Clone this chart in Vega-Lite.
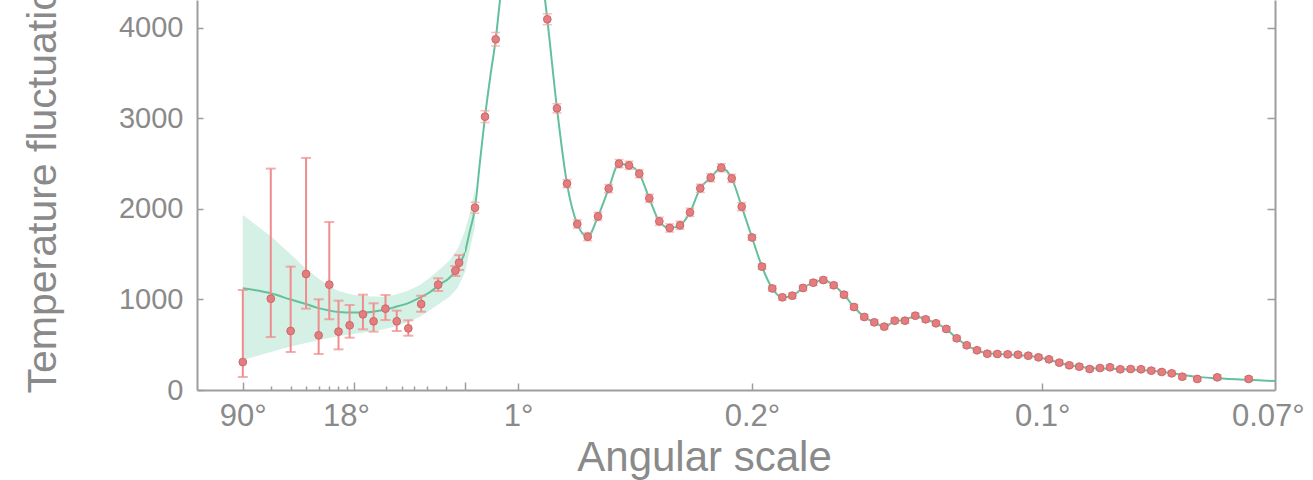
{
  "$schema": "https://vega.github.io/schema/vega-lite/v6.json",
  "autosize": {"type": "none"},
  "padding": {"left": 197, "top": 0, "right": 1116, "bottom": 480},
  "background": "white",
  "spacing": 0,
  "bounds": "flush",
  "config": {
    "view": {"stroke": null},
    "font": "Liberation Sans",
    "axis": {
      "domainColor": "#9d9d9d", "domainWidth": 2, "tickColor": "#9d9d9d", "tickWidth": 1.5,
      "labelColor": "#8a8a8a", "labelFont": "Liberation Sans", "labelFontSize": 29,
      "grid": false, "titleColor": "#8a8a8a", "titleFont": "Liberation Sans", "titleFontWeight": "normal",
      "labelFlush": false, "labelOverlap": false
    }
  },
  "datasets": {
    "lowpts": [
      {"l": 2, "d": 309, "lo": 144, "hi": 1105},
      {"l": 3, "d": 1009, "lo": 585, "hi": 2446},
      {"l": 4, "d": 652, "lo": 420, "hi": 1363},
      {"l": 5, "d": 1282, "lo": 899, "hi": 2564},
      {"l": 6, "d": 604, "lo": 398, "hi": 1002},
      {"l": 7, "d": 1164, "lo": 781, "hi": 1856},
      {"l": 8, "d": 645, "lo": 449, "hi": 987},
      {"l": 9.4, "d": 715, "lo": 578, "hi": 939},
      {"l": 11.4, "d": 836, "lo": 670, "hi": 1053},
      {"l": 13.3, "d": 759, "lo": 645, "hi": 958},
      {"l": 15.8, "d": 899, "lo": 773, "hi": 1050},
      {"l": 18.6, "d": 759, "lo": 652, "hi": 877},
      {"l": 22.0, "d": 681, "lo": 600, "hi": 770},
      {"l": 26.5, "d": 950, "lo": 865, "hi": 1042},
      {"l": 33.9, "d": 1164, "lo": 1094, "hi": 1234},
      {"l": 43.5, "d": 1318, "lo": 1260, "hi": 1370},
      {"l": 45.9, "d": 1407, "lo": 1326, "hi": 1490}
    ],
    "lowtheory": [
      {"l": 2, "d": 1124}, {"l": 3, "d": 1068}, {"l": 4, "d": 1000}, {"l": 5, "d": 950},
      {"l": 6, "d": 905}, {"l": 7, "d": 878}, {"l": 8, "d": 862}, {"l": 10, "d": 855},
      {"l": 12, "d": 857}, {"l": 15, "d": 880}, {"l": 18, "d": 915}, {"l": 22, "d": 960},
      {"l": 26, "d": 1020}, {"l": 30, "d": 1080}, {"l": 35, "d": 1170}, {"l": 40, "d": 1240},
      {"l": 45, "d": 1350}, {"l": 50, "d": 1520}
    ],
    "lowband": [
      {"l": 2, "lo": 331, "hi": 1934}, {"l": 3, "lo": 420, "hi": 1700}, {"l": 4, "lo": 480, "hi": 1500},
      {"l": 5, "lo": 520, "hi": 1340}, {"l": 6, "lo": 550, "hi": 1230}, {"l": 7, "lo": 575, "hi": 1150},
      {"l": 8, "lo": 595, "hi": 1095}, {"l": 10, "lo": 620, "hi": 1050}, {"l": 12, "lo": 640, "hi": 1035},
      {"l": 15, "lo": 665, "hi": 1030}, {"l": 18, "lo": 700, "hi": 1050}, {"l": 22, "lo": 750, "hi": 1100},
      {"l": 26, "lo": 810, "hi": 1160}, {"l": 30, "lo": 880, "hi": 1240}, {"l": 35, "lo": 960, "hi": 1340},
      {"l": 40, "lo": 1030, "hi": 1430}, {"l": 45, "lo": 1130, "hi": 1560}, {"l": 50, "lo": 1300, "hi": 1760}
    ],
    "hiband": [
      {"l": 50, "lo": 1300, "hi": 1760}, {"l": 65, "lo": 1560, "hi": 1960}, {"l": 80.5, "lo": 1800, "hi": 2230}
    ],
    "hitheory": [
      {"l": 50, "d": 1520}, {"l": 65, "d": 1760}, {"l": 80.5, "d": 2014}, {"l": 95, "d": 2500},
      {"l": 111, "d": 3020}, {"l": 127, "d": 3460}, {"l": 143.6, "d": 3875}, {"l": 160, "d": 4420},
      {"l": 180, "d": 5050}, {"l": 200, "d": 5520}, {"l": 220, "d": 5720}, {"l": 240, "d": 5640},
      {"l": 260, "d": 5300}, {"l": 280, "d": 4750}, {"l": 301, "d": 4096}, {"l": 330.5, "d": 3112},
      {"l": 361, "d": 2280}, {"l": 392.4, "d": 1834}, {"l": 424.2, "d": 1694}, {"l": 455.6, "d": 1918},
      {"l": 488.2, "d": 2225}, {"l": 519.6, "d": 2501}, {"l": 550.1, "d": 2482}, {"l": 581.5, "d": 2390},
      {"l": 612, "d": 2118}, {"l": 642.5, "d": 1864}, {"l": 674.2, "d": 1790}, {"l": 705.6, "d": 1820},
      {"l": 736.1, "d": 1963}, {"l": 767.5, "d": 2228}, {"l": 799.2, "d": 2346}, {"l": 831.6, "d": 2456},
      {"l": 863.3, "d": 2338}, {"l": 893.8, "d": 2026}, {"l": 925.2, "d": 1685}, {"l": 955.6, "d": 1363},
      {"l": 987.1, "d": 1122}, {"l": 1017.6, "d": 1024}, {"l": 1048.1, "d": 1042}, {"l": 1080.7, "d": 1127},
      {"l": 1112.1, "d": 1186}, {"l": 1142.6, "d": 1215}, {"l": 1174.3, "d": 1157}, {"l": 1205.7, "d": 1053},
      {"l": 1236.2, "d": 917}, {"l": 1267.6, "d": 807}, {"l": 1298.1, "d": 748}, {"l": 1328.6, "d": 700},
      {"l": 1360.3, "d": 760}, {"l": 1391.7, "d": 775}, {"l": 1423.1, "d": 815}, {"l": 1454.8, "d": 781},
      {"l": 1486.2, "d": 737}, {"l": 1517.7, "d": 674}, {"l": 1549.4, "d": 571}, {"l": 1579.9, "d": 494},
      {"l": 1611.3, "d": 439}, {"l": 1642.7, "d": 405}, {"l": 1673.2, "d": 398}, {"l": 1704.9, "d": 394},
      {"l": 1736.3, "d": 388}, {"l": 1767.7, "d": 377}, {"l": 1798.8, "d": 361}, {"l": 1830, "d": 335},
      {"l": 1862, "d": 302}, {"l": 1893, "d": 275}, {"l": 1923, "d": 257}, {"l": 1955, "d": 243},
      {"l": 1986, "d": 238}, {"l": 2017, "d": 235}, {"l": 2048, "d": 230}, {"l": 2080, "d": 226},
      {"l": 2111, "d": 220}, {"l": 2143, "d": 212}, {"l": 2175, "d": 200}, {"l": 2205, "d": 186},
      {"l": 2237, "d": 168}, {"l": 2283, "d": 145}, {"l": 2344, "d": 130}, {"l": 2440, "d": 112},
      {"l": 2520, "d": 99}
    ],
    "hipts": [
      {"l": 80.5, "d": 2014, "lo": 1954, "hi": 2074},
      {"l": 111, "d": 3020, "lo": 2955, "hi": 3085},
      {"l": 143.6, "d": 3875, "lo": 3800, "hi": 3950},
      {"l": 175, "d": 5000, "lo": 4920, "hi": 5080},
      {"l": 206, "d": 5650, "lo": 5570, "hi": 5730},
      {"l": 239, "d": 5680, "lo": 5600, "hi": 5760},
      {"l": 270, "d": 5050, "lo": 4975, "hi": 5125},
      {"l": 301, "d": 4096, "lo": 4036, "hi": 4156},
      {"l": 330.5, "d": 3112, "lo": 3062, "hi": 3162},
      {"l": 361, "d": 2280, "lo": 2235, "hi": 2325},
      {"l": 392.4, "d": 1834, "lo": 1789, "hi": 1879},
      {"l": 424.2, "d": 1694, "lo": 1649, "hi": 1739},
      {"l": 455.6, "d": 1918, "lo": 1873, "hi": 1963},
      {"l": 488.2, "d": 2225, "lo": 2180, "hi": 2270},
      {"l": 519.6, "d": 2501, "lo": 2456, "hi": 2546},
      {"l": 550.1, "d": 2482, "lo": 2437, "hi": 2527},
      {"l": 581.5, "d": 2390, "lo": 2345, "hi": 2435},
      {"l": 612, "d": 2118, "lo": 2073, "hi": 2163},
      {"l": 642.5, "d": 1864, "lo": 1819, "hi": 1909},
      {"l": 674.2, "d": 1790, "lo": 1745, "hi": 1835},
      {"l": 705.6, "d": 1820, "lo": 1775, "hi": 1865},
      {"l": 736.1, "d": 1963, "lo": 1918, "hi": 2008},
      {"l": 767.5, "d": 2228, "lo": 2183, "hi": 2273},
      {"l": 799.2, "d": 2346, "lo": 2301, "hi": 2391},
      {"l": 831.6, "d": 2456, "lo": 2411, "hi": 2501},
      {"l": 863.3, "d": 2338, "lo": 2293, "hi": 2383},
      {"l": 893.8, "d": 2026, "lo": 1981, "hi": 2071},
      {"l": 925.2, "d": 1685, "lo": 1655, "hi": 1715},
      {"l": 955.6, "d": 1363, "lo": 1333, "hi": 1393},
      {"l": 987.1, "d": 1122, "lo": 1092, "hi": 1152},
      {"l": 1017.6, "d": 1024, "lo": 994, "hi": 1054},
      {"l": 1048.1, "d": 1042, "lo": 1012, "hi": 1072},
      {"l": 1080.7, "d": 1127, "lo": 1097, "hi": 1157},
      {"l": 1112.1, "d": 1186, "lo": 1156, "hi": 1216},
      {"l": 1142.6, "d": 1215, "lo": 1185, "hi": 1245},
      {"l": 1174.3, "d": 1157, "lo": 1127, "hi": 1187},
      {"l": 1205.7, "d": 1053, "lo": 1023, "hi": 1083},
      {"l": 1236.2, "d": 917, "lo": 889, "hi": 945},
      {"l": 1267.6, "d": 807, "lo": 779, "hi": 835},
      {"l": 1298.1, "d": 748, "lo": 720, "hi": 776},
      {"l": 1328.6, "d": 700, "lo": 672, "hi": 728},
      {"l": 1360.3, "d": 766, "lo": 738, "hi": 794},
      {"l": 1391.7, "d": 766, "lo": 738, "hi": 794},
      {"l": 1423.1, "d": 821, "lo": 793, "hi": 849},
      {"l": 1454.8, "d": 781, "lo": 753, "hi": 809},
      {"l": 1486.2, "d": 737, "lo": 712, "hi": 762},
      {"l": 1517.7, "d": 674, "lo": 649, "hi": 699},
      {"l": 1549.4, "d": 571, "lo": 546, "hi": 596},
      {"l": 1579.9, "d": 494, "lo": 469, "hi": 519},
      {"l": 1611.3, "d": 439, "lo": 414, "hi": 464},
      {"l": 1642.7, "d": 401, "lo": 376, "hi": 426},
      {"l": 1673.2, "d": 398, "lo": 373, "hi": 423},
      {"l": 1704.9, "d": 394, "lo": 369, "hi": 419},
      {"l": 1736.3, "d": 390, "lo": 365, "hi": 415},
      {"l": 1767.7, "d": 379, "lo": 354, "hi": 404},
      {"l": 1798.8, "d": 361, "lo": 336, "hi": 386},
      {"l": 1830.8, "d": 339, "lo": 314, "hi": 364},
      {"l": 1862.2, "d": 302, "lo": 277, "hi": 327},
      {"l": 1892.7, "d": 273, "lo": 248, "hi": 298},
      {"l": 1923.2, "d": 258, "lo": 233, "hi": 283},
      {"l": 1954.9, "d": 232, "lo": 207, "hi": 257},
      {"l": 1986.3, "d": 243, "lo": 218, "hi": 268},
      {"l": 2016.8, "d": 251, "lo": 226, "hi": 276},
      {"l": 2048.2, "d": 229, "lo": 204, "hi": 254},
      {"l": 2079.9, "d": 232, "lo": 207, "hi": 257},
      {"l": 2111.3, "d": 229, "lo": 204, "hi": 254},
      {"l": 2142.8, "d": 214, "lo": 189, "hi": 239},
      {"l": 2174.5, "d": 199, "lo": 174, "hi": 224},
      {"l": 2205, "d": 184, "lo": 159, "hi": 209},
      {"l": 2237.3, "d": 147, "lo": 122, "hi": 172},
      {"l": 2283, "d": 122, "lo": 97, "hi": 147},
      {"l": 2344, "d": 140, "lo": 115, "hi": 165},
      {"l": 2439.8, "d": 122, "lo": 97, "hi": 147}
    ]
  },
  "hconcat": [
    {
      "width": 268,
      "height": 390,
      "layer": [
        {
          "data": {"name": "lowband"},
          "mark": {"type": "area", "color": "#d5f0e4", "opacity": 1, "clip": true},
          "encoding": {
            "x": {"field": "l", "type": "quantitative",
                  "scale": {"type": "log", "domain": [1.03, 50], "nice": false},
                  "axis": {"orient": "bottom", "values": [2, 10, 50], "labels": false, "tickSize": -8, "domain": true, "title": null}},
            "y": {"field": "lo", "type": "quantitative",
                  "scale": {"domain": [0, 4309], "nice": false, "zero": false},
                  "axis": {"orient": "left", "values": [0, 1000, 2000, 3000, 4000], "format": "d", "tickSize": -6, "labelPadding": 20, "domain": true,
                           "title": "Temperature fluctuations [\u03bcK\u00b2]", "titleFontSize": 41, "titleAngle": -90,
                           "titleAlign": "left", "titleBaseline": "alphabetic", "titleX": -142, "titleY": 393}},
            "y2": {"field": "hi"}
          }
        },
        {
          "data": {"name": "lowtheory"},
          "mark": {"type": "line", "color": "#62c19c", "strokeWidth": 2, "interpolate": "monotone", "clip": true},
          "encoding": {
            "x": {"field": "l", "type": "quantitative",
                  "axis": {"orient": "bottom", "values": [3, 4, 5, 6, 7, 8, 9, 16, 20, 24, 29, 38], "labels": false, "tickSize": -4, "domain": false, "title": null}},
            "y": {"field": "d", "type": "quantitative", "axis": null}
          }
        },
        {
          "data": {"name": "lowpts"},
          "mark": {"type": "rule", "color": "#f08c8c", "strokeWidth": 2, "clip": true},
          "encoding": {
            "x": {"field": "l", "type": "quantitative",
                  "axis": {"orient": "bottom", "values": [2, 8.9], "labelExpr": "datum.value < 5 ? '90\u00b0' : '18\u00b0'", "labelFontSize": 31, "ticks": false, "domain": false, "labelPadding": 11, "title": null}},
            "y": {"field": "lo", "type": "quantitative", "axis": null},
            "y2": {"field": "hi"}
          }
        },
        {
          "data": {"name": "lowpts"},
          "mark": {"type": "tick", "orient": "horizontal", "size": 10, "thickness": 2, "color": "#f08c8c", "clip": true},
          "encoding": {
            "x": {"field": "l", "type": "quantitative", "axis": null},
            "y": {"field": "hi", "type": "quantitative", "axis": null}
          }
        },
        {
          "data": {"name": "lowpts"},
          "mark": {"type": "tick", "orient": "horizontal", "size": 10, "thickness": 2, "color": "#f08c8c", "clip": true},
          "encoding": {
            "x": {"field": "l", "type": "quantitative", "axis": null},
            "y": {"field": "lo", "type": "quantitative", "axis": null}
          }
        },
        {
          "data": {"name": "lowpts"},
          "mark": {"type": "point", "filled": true, "size": 60, "color": "#e57d7e", "stroke": "#c8696b", "strokeWidth": 1, "opacity": 1, "clip": true},
          "encoding": {
            "x": {"field": "l", "type": "quantitative", "axis": null},
            "y": {"field": "d", "type": "quantitative", "axis": null}
          }
        }
      ],
      "resolve": {"axis": {"x": "independent", "y": "independent"}}
    },
    {
      "width": 810,
      "height": 390,
      "layer": [
        {
          "data": {"name": "hiband"},
          "mark": {"type": "area", "color": "#d5f0e4", "opacity": 1, "clip": true},
          "encoding": {
            "x": {"field": "l", "type": "quantitative",
                  "scale": {"domain": [50, 2520], "nice": false, "zero": false},
                  "axis": {"orient": "bottom", "values": [212, 925, 1810], "labels": false, "tickSize": -7, "domain": true, "title": null}},
            "y": {"field": "lo", "type": "quantitative",
                  "scale": {"domain": [0, 4309], "nice": false, "zero": false},
                  "axis": {"orient": "right", "values": [1000, 2000, 3000, 4000], "labels": false, "tickSize": -8, "domain": true, "title": null}},
            "y2": {"field": "hi"}
          }
        },
        {
          "data": {"name": "hitheory"},
          "mark": {"type": "line", "color": "#62c19c", "strokeWidth": 2, "interpolate": "monotone", "clip": true},
          "encoding": {
            "x": {"field": "l", "type": "quantitative",
                  "axis": {"orient": "bottom", "values": [212, 925, 1810, 2498], "labelExpr": "datum.value < 300 ? '1\u00b0' : datum.value < 1000 ? '0.2\u00b0' : datum.value < 2000 ? '0.1\u00b0' : '0.07\u00b0'",
                           "labelFontSize": 31, "ticks": false, "domain": false, "labelPadding": 11,
                           "title": "Angular scale", "titleFontSize": 42, "titleX": 239, "titleY": 80, "titleBaseline": "alphabetic", "titleAlign": "center"}},
            "y": {"field": "d", "type": "quantitative", "axis": null}
          }
        },
        {
          "data": {"name": "hipts"},
          "mark": {"type": "rule", "color": "#f3a0a0", "strokeWidth": 1.5, "clip": true},
          "encoding": {
            "x": {"field": "l", "type": "quantitative", "axis": null},
            "y": {"field": "lo", "type": "quantitative", "axis": null},
            "y2": {"field": "hi"}
          }
        },
        {
          "data": {"name": "hipts"},
          "mark": {"type": "tick", "orient": "horizontal", "size": 9, "thickness": 1.5, "color": "#f3a0a0", "clip": true},
          "encoding": {
            "x": {"field": "l", "type": "quantitative", "axis": null},
            "y": {"field": "hi", "type": "quantitative", "axis": null}
          }
        },
        {
          "data": {"name": "hipts"},
          "mark": {"type": "tick", "orient": "horizontal", "size": 9, "thickness": 1.5, "color": "#f3a0a0", "clip": true},
          "encoding": {
            "x": {"field": "l", "type": "quantitative", "axis": null},
            "y": {"field": "lo", "type": "quantitative", "axis": null}
          }
        },
        {
          "data": {"name": "hipts"},
          "mark": {"type": "point", "filled": true, "size": 60, "color": "#e57d7e", "stroke": "#c8696b", "strokeWidth": 1, "opacity": 1, "clip": true},
          "encoding": {
            "x": {"field": "l", "type": "quantitative", "axis": null},
            "y": {"field": "d", "type": "quantitative", "axis": null}
          }
        }
      ],
      "resolve": {"axis": {"x": "independent", "y": "independent"}}
    }
  ]
}
